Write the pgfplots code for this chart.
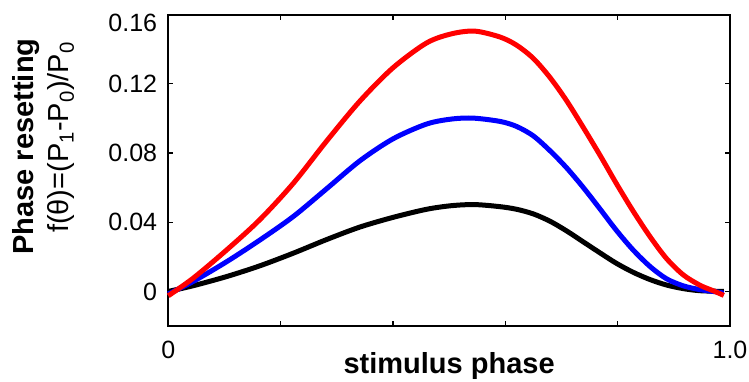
\documentclass[border=0pt]{standalone}
\usepackage{fontspec}
\setmainfont{Liberation Sans}
\usepackage{pgfplots}
\pgfplotsset{compat=1.18}
\usepackage{pgfplotstable}

\pgfplotstableread{
x y
0 -0.0025
0.0445 0.0077
0.104 0.0240
0.163 0.0415
0.2225 0.0625
0.282 0.0870
0.341 0.1100
0.400 0.1293
0.460 0.1437
0.505 0.1490
0.546 0.1505
0.5905 0.1471
0.620 0.1424
0.650 0.1347
0.680 0.1235
0.709 0.1103
0.739 0.0947
0.769 0.0785
0.798 0.0622
0.828 0.0462
0.858 0.0315
0.887 0.0190
0.917 0.0095
0.947 0.0035
0.970 0.0004
0.989 -0.0023
}\redtable

\pgfplotstableread{
x y
0 -0.0015
0.0445 0.0058
0.104 0.0172
0.163 0.0297
0.2225 0.0433
0.282 0.0594
0.341 0.0755
0.400 0.0882
0.460 0.0968
0.505 0.0997
0.543 0.1002
0.5905 0.0983
0.620 0.0954
0.650 0.0899
0.680 0.0812
0.709 0.0715
0.739 0.0600
0.769 0.0475
0.798 0.0352
0.828 0.0238
0.858 0.0143
0.887 0.0073
0.917 0.0032
0.947 0.0010
0.976 -0.0003
0.989 -0.0010
}\bluetable

\pgfplotstableread{
x y
0 0
0.0445 0.0033
0.104 0.0086
0.163 0.0148
0.2225 0.0221
0.282 0.0300
0.341 0.0372
0.400 0.0428
0.460 0.0475
0.505 0.0496
0.546 0.0502
0.5905 0.0490
0.620 0.0475
0.650 0.0448
0.680 0.0405
0.709 0.0350
0.739 0.0286
0.769 0.0222
0.798 0.0162
0.828 0.0110
0.858 0.0068
0.887 0.0037
0.917 0.0016
0.947 0.0004
0.989 0
}\blacktable

\begin{document}
\begin{tikzpicture}
\begin{axis}[
  at={(0,0)}, anchor=south west,
  scale only axis, width=561.7bp, height=311.3bp,
  xmin=0, xmax=1, ymin=-0.02, ymax=0.16,
  xtick={0,0.2,0.4,0.6,0.8,1}, xticklabels={0,,,,,1.0},
  ytick={0,0.04,0.08,0.12}, yticklabels={0,0.04,0.08,0.12},
  extra y ticks={0.16}, extra y tick labels={0.16},
  extra y tick style={yticklabel style={yshift=-8bp}},
  tick align=inside, major tick length=5bp,
  tick style={line width=1.2bp, black},
  axis line style={line width=2bp},
  ticklabel style={font=\fontsize{25bp}{30bp}\selectfont, inner sep=0pt},
  /pgf/number format/assume math mode=true,
  xticklabel shift=14.5bp,
  yticklabel shift=11bp,
  xlabel={stimulus phase},
  xlabel style={at={(axis description cs:0.5,0)}, anchor=base, yshift=-47.3bp, inner sep=0pt, font=\bfseries\fontsize{29bp}{34bp}\selectfont},
  clip=false,
]
\addplot[black, line width=5bp, smooth] table[x=x,y=y] {\blacktable};
\addplot[blue, line width=5bp, smooth] table[x=x,y=y] {\bluetable};
\addplot[red, line width=5bp, smooth] table[x=x,y=y] {\redtable};
\end{axis}
\node[rotate=90, anchor=base, inner sep=0pt, font=\bfseries\fontsize{29bp}{34bp}\selectfont] at (-135bp,179.5bp) {Phase resetting};
\node[rotate=90, anchor=base, inner sep=0pt, font=\fontsize{29bp}{34bp}\selectfont] at (-100bp,188.5bp) {f(θ)=(P\textsubscript{1}-P\textsubscript{0})/P\textsubscript{0}};
\pgfresetboundingbox
\path (-168.3bp,-56bp) rectangle (580.7bp,326bp);
\end{tikzpicture}
\end{document}
